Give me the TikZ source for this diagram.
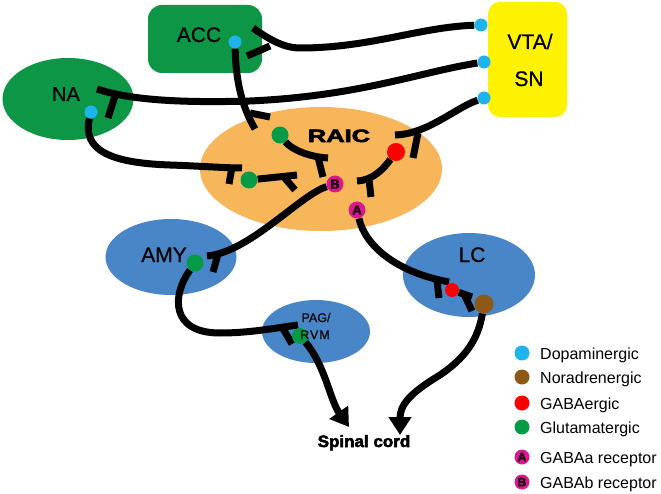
\documentclass[tikz,border=0pt]{standalone}
\usepackage{fontspec}
\setmainfont{Liberation Sans}
\newfontfamily\heavyfont{Liberation Sans Bold}[FakeBold=3]
\newfontfamily\regionfont{Liberation Sans}[FakeBold=0.6]
\usetikzlibrary{arrows.meta,shapes.geometric}
\definecolor{regiongreen}{RGB}{12,150,70}
\definecolor{vtayellow}{RGB}{255,242,0}
\definecolor{raicorange}{RGB}{247,182,90}
\definecolor{regionblue}{RGB}{72,134,200}
\definecolor{dopa}{RGB}{30,180,235}
\definecolor{nora}{RGB}{140,90,20}
\definecolor{gaba}{RGB}{255,0,0}
\definecolor{glu}{RGB}{5,155,70}
\definecolor{recep}{RGB}{215,25,140}
\pgfdeclarelayer{bg}
\pgfdeclarelayer{lines}
\pgfsetlayers{bg,lines,main}
\begin{document}
\begin{tikzpicture}[x=1pt,y=-1pt,
  roundbox/.style={rectangle, rounded corners=14pt, draw=none, inner sep=0pt},
  oval/.style={ellipse, draw=none, inner sep=0pt},
  lbl/.style={font=\regionfont\fontsize{21}{24}\selectfont, inner sep=0pt, anchor=base},
  dot/.style={circle, inner sep=0pt, draw=none},
  rdot/.style={dot, fill=recep, font=\heavyfont\fontsize{13}{13}\selectfont, text=black!85!recep},
  axon/.style={line width=7pt, black},
  stub/.style={line width=7pt, black},
  arr/.style={line width=7pt, black, -{Triangle[width=22pt,length=18pt]}},
  leg/.style={font=\fontsize{16}{18}\selectfont, anchor=base west, inner sep=0pt},
]
\useasboundingbox (0,0) rectangle (661,494);

% regions
\begin{pgfonlayer}{bg}
\node[roundbox, fill=regiongreen, minimum width=114pt, minimum height=68pt] (ACC) at (205,39) {};
\node[roundbox, fill=vtayellow, rounded corners=12pt, minimum width=79pt, minimum height=115pt] (VTA) at (527.5,59.5) {};
\node[oval, fill=regiongreen, minimum width=131pt, minimum height=82pt] (NA) at (68,99) {};
\node[oval, fill=raicorange, minimum width=242pt, minimum height=124pt] (RAIC) at (321,169) {};
\node[oval, fill=regionblue, minimum width=131pt, minimum height=76pt] (AMY) at (171,257) {};
\node[oval, fill=regionblue, minimum width=132pt, minimum height=84pt] (LC) at (469,275) {};
\node[oval, fill=regionblue, minimum width=108pt, minimum height=63pt] (PAG) at (316,331.5) {};
\end{pgfonlayer}

% dots
\node[dot, fill=dopa, minimum size=13pt] (v1) at (481,25) {};
\node[dot, fill=dopa, minimum size=13pt] (v2) at (484,62) {};
\node[dot, fill=dopa, minimum size=13pt] (v3) at (484,98) {};
\node[dot, fill=dopa, minimum size=13pt] (accd) at (235,42) {};
\node[dot, fill=dopa, minimum size=13pt] (nad) at (91,112) {};
\node[dot, fill=glu, minimum size=17pt] (g1) at (280,135) {};
\node[dot, fill=glu, minimum size=17pt] (g2) at (249,180) {};
\node[dot, fill=glu, minimum size=17pt] (gamy) at (195,263) {};
\node[dot, fill=glu, minimum size=16pt] (gpag) at (300,336) {};
\node[dot, fill=gaba, minimum size=18pt] (rr) at (396,152) {};
\node[dot, fill=gaba, minimum size=14pt] (rl) at (452,290) {};
\node[dot, fill=nora, minimum size=19pt] (nl) at (484,304) {};
\node[rdot, minimum size=17pt] (rb) at (335,184) {B};
\node[rdot, minimum size=17pt] (ra) at (357,210) {A};

% labels
\node[lbl] (accl) at (199,42) {ACC};
\node[lbl, font=\regionfont\fontsize{20}{24}\selectfont] (nal) at (66,101) {NA};
\node[lbl] (vtal) at (530,49) {VTA/};
\node[lbl] (snl) at (529,86) {SN};
\node[lbl] (amyl) at (164,262) {AMY};
\node[lbl] (lcl) at (472,262) {LC};
\node[lbl, font=\regionfont\fontsize{12.5}{14}\selectfont] (pagl) at (316,322) {PAG/};
\node[lbl, font=\regionfont\fontsize{12.5}{14}\selectfont] (rvml) at (315,339) {\addfontfeature{LetterSpace=8}RVM};
\node[inner sep=0pt, anchor=base] (raicl) at (339,142) {\scalebox{1.5}[1.05]{\heavyfont\fontsize{17}{20}\selectfont RAIC}};
\node[inner sep=0pt, anchor=base] (spinal) at (364,447) {\scalebox{1.03}[1]{\heavyfont\fontsize{16.5}{20}\selectfont Spinal cord}};

% terminal coordinates
\coordinate (e1) at (253,28);  \coordinate (s1a) at (270,46);  \coordinate (s1b) at (247,56);
\coordinate (e2) at (97,89);   \coordinate (s2a) at (115,96);  \coordinate (s2b) at (108,118);
\coordinate (e3) at (255,129); \coordinate (s3a) at (250,113); \coordinate (s3b) at (270,117);
\coordinate (e4) at (395,135); \coordinate (s4a) at (418,133); \coordinate (s4b) at (413,158);
\coordinate (e5) at (242,168); \coordinate (s5a) at (232,167); \coordinate (s5b) at (229,184);
\coordinate (e6) at (297,175); \coordinate (s6a) at (283,176); \coordinate (s6b) at (295,190);
\coordinate (e7) at (328,158); \coordinate (s7a) at (318,157); \coordinate (s7b) at (323,177);
\coordinate (e8) at (207,256); \coordinate (s8a) at (218,254); \coordinate (s8b) at (213,272);
\coordinate (e9) at (298,325); \coordinate (s9a) at (282,327); \coordinate (s9b) at (292,344);
\coordinate (e12) at (449,282); \coordinate (s12a) at (437,280); \coordinate (s12b) at (439,298);
\coordinate (e13) at (472,297); \coordinate (s13a) at (464,294); \coordinate (s13b) at (472,311);
\coordinate (e14) at (357,181); \coordinate (s14a) at (369,179); \coordinate (s14b) at (371,197);
\coordinate (sp1) at (349,427);
\coordinate (sp2) at (400,435);

% connectors
\begin{pgfonlayer}{lines}
\draw[axon] (v1) .. controls (420,27) and (370,48) .. (300,48) .. controls (282,48) and (266,37) .. (e1);
\draw[stub] (s1a) -- (s1b);
\draw[axon] (v2) .. controls (420,72) and (360,96) .. (250,101) .. controls (180,103) and (130,100) .. (e2);
\draw[stub] (s2a) -- (s2b);
\draw[axon] (accd) .. controls (236,85) and (243,108) .. (e3);
\draw[stub] (s3a) -- (s3b);
\draw[axon] (v3) .. controls (455,108) and (428,134) .. (e4);
\draw[stub] (s4a) -- (s4b);
\draw[axon] (nad) .. controls (82,150) and (110,163) .. (170,165) .. controls (200,166) and (225,168) .. (e5);
\draw[stub] (s5a) -- (s5b);
\draw[axon] (g2) -- (e6);
\draw[stub] (s6a) -- (s6b);
\draw[axon] (g1) .. controls (292,150) and (310,157) .. (e7);
\draw[stub] (s7a) -- (s7b);
\draw[axon] (rb) .. controls (300,195) and (250,252) .. (e8);
\draw[stub] (s8a) -- (s8b);
\draw[axon] (gamy) .. controls (172,295) and (170,333) .. (220,333) .. controls (250,333) and (275,328) .. (e9);
\draw[stub] (s9a) -- (s9b);
\draw[arr] (gpag) .. controls (325,365) and (330,400) .. (sp1);
\draw[arr] (nl) .. controls (478,340) and (465,358) .. (440,375) .. controls (410,393) and (400,405) .. (sp2);
\draw[axon] (ra) .. controls (365,245) and (395,272) .. (e12);
\draw[stub] (s12a) -- (s12b);
\draw[axon] (rl) -- (e13);
\draw[stub] (s13a) -- (s13b);
\draw[axon] (rr) .. controls (384,168) and (374,180) .. (e14);
\draw[stub] (s14a) -- (s14b);
\end{pgfonlayer}

% legend
\node[dot, fill=dopa, minimum size=15pt] (ld1) at (522,353) {};
\node[leg] (lt1) at (540,359) {Dopaminergic};
\node[dot, fill=nora, minimum size=15pt] (ld2) at (522,377) {};
\node[leg] (lt2) at (540,383) {Noradrenergic};
\node[dot, fill=gaba, minimum size=15pt] (ld3) at (522,403) {};
\node[leg] (lt3) at (540,409) {GABAergic};
\node[dot, fill=glu, minimum size=15pt] (ld4) at (522,427) {};
\node[leg] (lt4) at (540,433) {Glutamatergic};
\node[rdot, minimum size=15pt, font=\heavyfont\fontsize{12}{12}\selectfont] (ld5) at (522,457) {A};
\node[leg] (lt5) at (540,463) {GABAa receptor};
\node[rdot, minimum size=15pt, font=\heavyfont\fontsize{12}{12}\selectfont] (ld6) at (522,482) {B};
\node[leg] (lt6) at (540,488) {GABAb receptor};
\end{tikzpicture}
\end{document}
